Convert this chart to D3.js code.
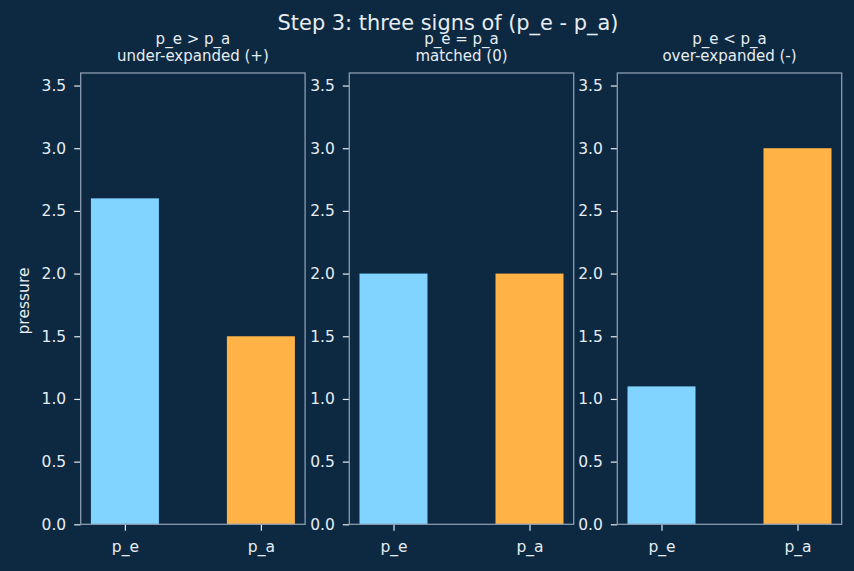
<!DOCTYPE html>
<html>
<head>
<meta charset="utf-8">
<script src="https://cdn.jsdelivr.net/npm/d3@7"></script>
<style>
  html, body { margin: 0; padding: 0; background: #0d2941; }
  svg { display: block; }
  text { font-family: "DejaVu Sans", sans-serif; fill: #e6edf3; }
</style>
</head>
<body>
<svg id="chart" width="854" height="571"></svg>
<script>
// ---- data ----
const categories = ["p_e", "p_a"];
const panelTitles = [
  ["p_e > p_a", "under-expanded (+)"],
  ["p_e = p_a", "matched (0)"],
  ["p_e < p_a", "over-expanded (-)"]
];
const peValues = [2.6, 2.0, 1.1];
const paValues = [1.5, 2.0, 3.0];
const yTicks = [0.0, 0.5, 1.0, 1.5, 2.0, 2.5, 3.0, 3.5];
const yMax = 3.6;
const mainTitle = "Step 3: three signs of (p_e - p_a)";
const yLabel = "pressure";

(function () {
// ---- style ----
const bg = "#0d2941";
const frameColor = "#8a9cb0";
const textColor = "#e6edf3";
const barColors = ["#80d4ff", "#ffb347"];
const tickFont = "15.5px";

const W = 854, H = 571;
const panelLefts = [80.7, 349.3, 617.3];
const panelW = 224.4;
const plotTop = 73, plotBottom = 524.3;

const svg = d3.select("#chart");
svg.append("rect").attr("width", W).attr("height", H).attr("fill", bg);

const y = d3.scaleLinear().domain([0, yMax]).range([plotBottom, plotTop]);

panelTitles.forEach((t, i) => {
  const x0 = panelLefts[i];
  const g = svg.append("g");
  const x = d3.scaleLinear().domain([-0.325, 1.325]).range([x0, x0 + panelW]);
  const vals = [peValues[i], paValues[i]];
  const bw = x(0.5) - x(0);

  g.selectAll("rect.bar").data(vals).enter().append("rect")
    .attr("class", "bar")
    .attr("x", (d, j) => x(j) - bw / 2)
    .attr("width", bw)
    .attr("y", d => y(d))
    .attr("height", d => y(0) - y(d))
    .attr("fill", (d, j) => barColors[j]);

  const yAxis = d3.axisLeft(y).tickValues(yTicks).tickFormat(d3.format(".1f")).tickSize(6.5).tickPadding(8);
  const ya = g.append("g").attr("transform", `translate(${x0},0)`).call(yAxis);
  ya.select(".domain").remove();
  ya.selectAll("line").attr("stroke", textColor).attr("stroke-width", 1.2);
  ya.selectAll("text").style("font-size", tickFont).attr("fill", textColor).style("font-family", "DejaVu Sans");

  const xAxis = d3.axisBottom(x).tickValues([0, 1]).tickFormat(d => categories[d]).tickSize(6.5).tickPadding(10);
  const xa = g.append("g").attr("transform", `translate(0,${plotBottom})`).call(xAxis);
  xa.select(".domain").remove();
  xa.selectAll("line").attr("stroke", textColor).attr("stroke-width", 1.2);
  xa.selectAll("text").style("font-size", tickFont).attr("fill", textColor).style("font-family", "DejaVu Sans");

  g.append("rect")
    .attr("x", x0).attr("y", plotTop)
    .attr("width", panelW).attr("height", plotBottom - plotTop)
    .attr("fill", "none").attr("stroke", frameColor).attr("stroke-width", 1.3);

  const cx = x0 + panelW / 2;
  g.append("text").attr("x", cx).attr("y", 43.5).attr("text-anchor", "middle")
    .style("font-size", "15px").text(t[0]);
  g.append("text").attr("x", cx).attr("y", 61).attr("text-anchor", "middle")
    .style("font-size", "15px").text(t[1]);
});

svg.append("text")
  .attr("x", 448).attr("y", 30)
  .attr("text-anchor", "middle")
  .style("font-size", "20.9px")
  .text(mainTitle);

svg.append("text")
  .attr("transform", "translate(29,301) rotate(-90)")
  .attr("text-anchor", "middle")
  .style("font-size", tickFont)
  .text(yLabel);
})();
</script>
</body>
</html>
